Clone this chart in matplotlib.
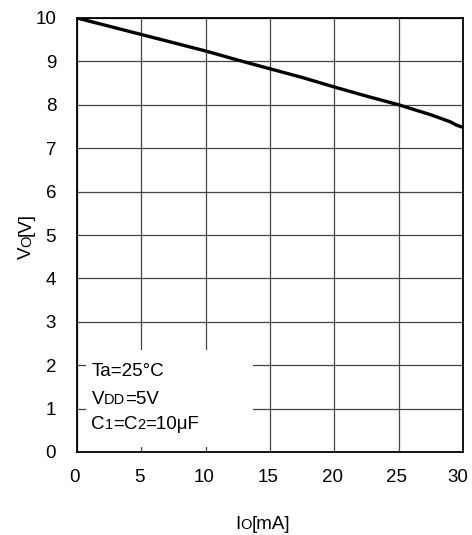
import matplotlib
matplotlib.use("Agg")
import matplotlib.pyplot as plt
from matplotlib.patches import Rectangle
from matplotlib.transforms import IdentityTransform, ScaledTranslation

plt.rcParams['font.family'] = ['Liberation Sans', 'DejaVu Sans']

io_ma = [0, 2.5, 5, 7.5, 10, 12.5, 15, 17.5, 20, 22.5, 25, 27.5, 29, 29.5, 30]
vo_v = [10, 9.81, 9.62, 9.43, 9.24, 9.03, 8.83, 8.63, 8.41, 8.2, 8.0, 7.77, 7.61, 7.53, 7.48]
x_ticks = [0, 5, 10, 15, 20, 25, 30]
y_ticks = [0, 1, 2, 3, 4, 5, 6, 7, 8, 9, 10]
# (text, is_small) pieces
note_lines = [
    [("Ta=25°C", False)],
    [("V", False), ("DD", True), ("=5V", False)],
    [("C", False), ("1", True), ("=C", False), ("2", True), ("=10μF", False)],
]
xlabel_parts = [("I", False), ("O", True), ("[mA]", False)]
ylabel_parts = [("V", False), ("O", True), ("[V]", False)]

W, H = 472, 535
FS = 13.5
FS_SMALL = 10.5

fig = plt.figure(figsize=(W / 100, H / 100), dpi=100)
ax = fig.add_axes([77 / W, 1 - 452 / H, (463 - 77) / W, (452 - 18) / H])

ax.set_xlim(0, 30)
ax.set_ylim(0, 10)
ax.set_xticks(x_ticks)
ax.set_yticks(y_ticks)
ax.tick_params(length=0, labelsize=FS)
ax.tick_params(axis='x', pad=12)
ax.tick_params(axis='y', pad=15)
ax.set_axisbelow(True)
ax.grid(True, color='#444444', linewidth=0.9)
for s in ax.spines.values():
    s.set_linewidth(1.3)
    s.set_color('black')

# shift x tick labels slightly left, as in the reference
xlabels = ax.get_xticklabels()
for i, lab in enumerate(xlabels):
    dx = -2 if i < len(xlabels) - 1 else -5
    lab.set_transform(lab.get_transform() + ScaledTranslation(dx / 100, 0, fig.dpi_scale_trans))

ax.add_patch(Rectangle((0.7, 0.115), 13.0, 2.235, facecolor='white', edgecolor='none', zorder=1))
ax.plot(io_ma, vo_v, color='black', linewidth=2.4, zorder=3, solid_capstyle='butt')

renderer = fig.canvas.get_renderer()


def rich(x_px, y_px, parts, rotation=0, center=False):
    """Place text pieces in image pixel coords (origin top-left), baseline at y_px."""
    texts = []
    for s, small in parts:
        t = fig.text(0, 0, s, fontsize=FS_SMALL if small else FS, rotation=rotation,
                     ha='left', va='baseline', rotation_mode='anchor',
                     transform=IdentityTransform())
        texts.append(t)
    sizes = []
    for t in texts:
        bb = t.get_window_extent(renderer)
        sizes.append(bb.height if rotation == 90 else bb.width)
    total = sum(sizes)
    if rotation == 90:
        pos = (H - y_px) - (total / 2 if center else 0)
        for t, sz in zip(texts, sizes):
            t.set_position((x_px, pos))
            pos += sz
    else:
        pos = x_px - (total / 2 if center else 0)
        for t, sz in zip(texts, sizes):
            t.set_position((pos, H - y_px))
            pos += sz


for line, yb in zip(note_lines, [376.5, 404, 429]):
    rich(91.5, yb, line)

rich(263, 529, xlabel_parts, center=True)
rich(31, 236, ylabel_parts, rotation=90, center=True)

fig.savefig("out.png", dpi=100)
